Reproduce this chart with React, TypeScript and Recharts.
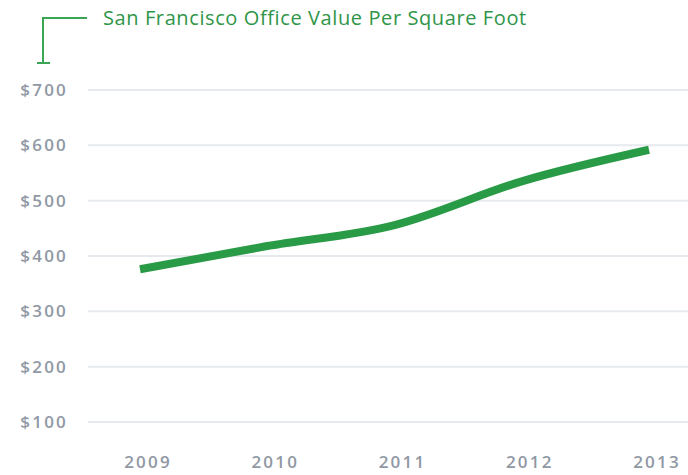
import React from "react";
import { LineChart, Line, XAxis, YAxis, CartesianGrid } from "recharts";

const years = ["2009", "2010", "2011", "2012", "2013"];
const valuePerSqFt = [376, 418, 456, 535, 592];
const yTicks = [100, 200, 300, 400, 500, 600, 700];
const title = "San Francisco Office Value Per Square Foot";

const data = years.map((year, i) => ({ year, value: valuePerSqFt[i] }));

const tickStyle = {
  fill: "#9098a4",
  fontSize: 17,
  fontFamily: "'Open Sans', sans-serif",
  fontWeight: 600,
  letterSpacing: 2.2,
};

export default function App() {
  return (
    <div style={{ position: "absolute", left: 0, top: 0, width: 688, height: 475, background: "#fff" }}>
      <svg width={688} height={80} style={{ position: "absolute", left: 0, top: 0 }}>
        <polyline points="87,18 43,18 43,63" fill="none" stroke="#3aa655" strokeWidth={2} />
        <line x1={37} y1={63} x2={50} y2={63} stroke="#3aa655" strokeWidth={2} />
        <text
          x={103}
          y={25}
          fill="#2f9548"
          fontSize={20}
          fontFamily="'Open Sans', sans-serif"
          letterSpacing={0.6}
        >
          {title}
        </text>
      </svg>
      <LineChart
        width={688}
        height={475}
        data={data}
        margin={{ top: 90, right: 0, bottom: 23, left: 0 }}
      >
        <CartesianGrid horizontal vertical={false} stroke="#e6e9ed" strokeWidth={2} />
        <XAxis
          dataKey="year"
          axisLine={false}
          tickLine={false}
          padding={{ left: 52, right: 39 }}
          tick={{ ...tickStyle, dx: 8 }}
          tickMargin={28}
        />
        <YAxis
          domain={[100, 700]}
          ticks={yTicks}
          width={88}
          axisLine={false}
          tickLine={false}
          tickMargin={14}
          tick={tickStyle}
          tickFormatter={(v) => `$${v}`}
        />
        <Line
          type="monotone"
          dataKey="value"
          stroke="#299b47"
          strokeWidth={8}
          dot={false}
          isAnimationActive={false}
        />
      </LineChart>
    </div>
  );
}
